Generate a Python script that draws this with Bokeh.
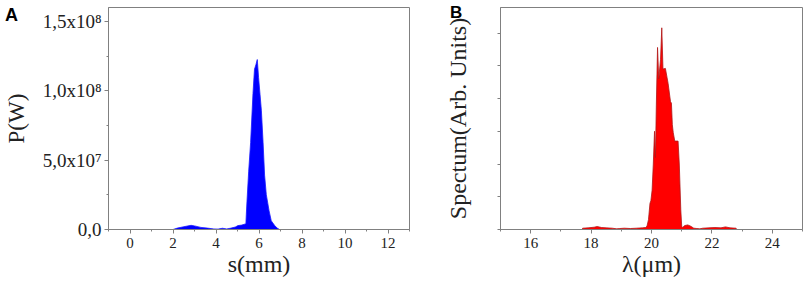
from bokeh.plotting import figure
from bokeh.layouts import GridBox
from bokeh.models import FixedTicker, Range1d, Div
from bokeh.embed import file_html
from bokeh.resources import INLINE

# ---------------- data ----------------
# Panel A: power vs position
s_mm = [2.0, 2.2, 2.5, 2.84, 3.0, 3.3, 3.6, 3.9, 4.1, 4.3, 4.5, 4.7, 4.9, 5.02, 5.2,
        5.36, 5.39, 5.41, 5.44, 5.52, 5.61, 5.72, 5.79, 5.86, 5.92, 5.98, 6.05, 6.11,
        6.19, 6.26, 6.34, 6.47, 6.57, 6.73, 6.85, 6.95]
p_w = [0.0, 1.0e6, 2.0e6, 3.0e6, 2.6e6, 1.5e6, 1.0e6, 0.4e6, 0.3e6, 0.9e6, 0.4e6, 1.0e6,
       1.8e6, 2.8e6, 3.2e6, 4.0e6, 4.2e6, 1.1e7, 2.0e7, 4.2e7, 6.27e7, 9.8e7, 1.155e8,
       1.19e8, 1.225e8, 1.096e8, 9.7e7, 8.6e7, 6.27e7, 3.92e7, 2.51e7, 1.34e7, 6.3e6,
       2.8e6, 1.0e6, 0.0]

# Panel B: spectrum vs wavelength
lam_um = [17.70, 17.72, 17.9, 18.1, 18.2, 18.35, 18.5, 18.7, 18.85, 18.95, 19.1, 19.3,
          19.5, 19.7, 19.8, 19.85, 19.9, 19.95, 19.98, 20.02, 20.06, 20.10, 20.13, 20.16,
          20.20, 20.24, 20.30, 20.34, 20.38, 20.46, 20.55, 20.63, 20.66, 20.69, 20.72,
          20.77, 20.88, 20.92, 20.97, 21.0, 21.03, 21.1, 21.2, 21.3, 21.4, 21.5, 21.6,
          21.7, 21.9, 22.1, 22.3, 22.45, 22.6, 22.8, 22.82]
spec = [0.0, 0.02, 0.025, 0.035, 0.045, 0.03, 0.025, 0.02, 0.01, 0.015, 0.02, 0.015,
        0.02, 0.025, 0.03, 0.05, 0.15, 0.40, 0.44, 0.6, 1.0, 1.50, 1.1, 1.9,
        2.78, 2.3, 2.6, 3.08, 2.45, 2.46, 2.23, 1.95, 1.93, 1.6, 1.48,
        1.35, 1.35, 1.0, 0.3, 0.05, 0.03, 0.06, 0.07, 0.05, 0.02, 0.015, 0.01,
        0.02, 0.025, 0.03, 0.025, 0.04, 0.025, 0.02, 0.0]

a_xticks = [0, 2, 4, 6, 8, 10, 12]
a_xminor = [-1, 1, 3, 5, 7, 9, 11, 13]
a_yticks = [0, 5e7, 1e8, 1.5e8]
a_yminor = [2.5e7, 7.5e7, 1.25e8]
a_ylabels = ["0,0", "5,0x10\u2077", "1,0x10\u2078", "1,5x10\u2078"]
b_xticks = [16, 18, 20, 22, 24]
b_xminor = [15, 17, 19, 21, 23, 25]
b_yticks = [0, 0.5, 1, 1.5, 2, 2.5, 3]

SERIF = "Liberation Serif"
AXC = "#808080"


def style(p):
    p.background_fill_color = "white"
    p.border_fill_color = "white"
    p.outline_line_color = AXC
    p.outline_line_width = 1
    p.xgrid.visible = False
    p.ygrid.visible = False
    for ax in (p.xaxis[0], p.yaxis[0]):
        ax.axis_line_color = AXC
        ax.major_tick_line_color = AXC
        ax.minor_tick_line_color = AXC
        ax.major_tick_out = 4
        ax.major_tick_in = 0
        ax.minor_tick_out = 2
        ax.minor_tick_in = 0
        ax.major_label_text_font = SERIF
        ax.major_label_text_font_size = "15px"
        ax.major_label_text_color = "#222222"
        ax.axis_label_text_font = SERIF
        ax.axis_label_text_font_style = "normal"
        ax.axis_label_text_color = "#222222"


# ---------------- Panel A ----------------
pA = figure(width=440, height=296, output_backend="svg", toolbar_location=None,
            x_range=Range1d(-1, 13), y_range=Range1d(0, 1.6e8),
            min_border_left=107, min_border_right=31, min_border_top=3,
            min_border_bottom=67)
style(pA)
pA.varea(x=s_mm, y1=0, y2=p_w, fill_color="#0000ff")
pA.line(x=s_mm, y=p_w, line_color="#1a1aff", line_width=0.8)
pA.xaxis.ticker = FixedTicker(ticks=a_xticks, minor_ticks=a_xminor)
pA.yaxis.ticker = FixedTicker(ticks=a_yticks, minor_ticks=a_yminor)
pA.yaxis.major_label_overrides = {t: l for t, l in zip(a_yticks, a_ylabels)}
pA.yaxis.major_label_text_font_size = "19px"
pA.yaxis.major_label_standoff = 3
pA.yaxis.axis_label = "P(W)"
pA.yaxis.axis_label_text_font_size = "23px"
pA.yaxis.axis_label_standoff = 11
pA.xaxis.major_label_standoff = 4
pA.xaxis.axis_label = "s(mm)"
pA.xaxis.axis_label_text_font_size = "24px"
pA.xaxis.axis_label_standoff = 0

# ---------------- Panel B ----------------
pB = figure(width=369, height=296, output_backend="svg", toolbar_location=None,
            x_range=Range1d(15, 25), y_range=Range1d(0, 3.39),
            min_border_left=60, min_border_right=7, min_border_top=7,
            min_border_bottom=65)
style(pB)
pB.varea(x=lam_um, y1=0, y2=spec, fill_color="#ff0000")
pB.line(x=lam_um, y=spec, line_color="#b01818", line_width=0.8)
pB.xaxis.ticker = FixedTicker(ticks=b_xticks, minor_ticks=b_xminor)
pB.yaxis.ticker = FixedTicker(ticks=[], minor_ticks=b_yticks)
pB.yaxis.minor_tick_out = 3
pB.xaxis.major_label_standoff = 4
pB.xaxis.axis_label = "\u03bb(\u03bcm)"
pB.xaxis.axis_label_text_font_size = "24px"
pB.xaxis.axis_label_standoff = 0
pB.yaxis.axis_label = "Spectum(Arb. Units)"
pB.yaxis.axis_label_text_font_size = "24px"
pB.yaxis.axis_label_standoff = 27

# panel letters, overlaid on the figures' top-left corners
LETTER = ("font-family:'Liberation Sans',Arial,sans-serif;font-weight:bold;"
          "line-height:1;color:black;")
divA = Div(text=f'<div style="{LETTER}font-size:18px;padding:6px 0 0 5px;">A</div>',
           width=30, height=30, margin=0)
divB = Div(text=f'<div style="{LETTER}font-size:17px;padding:4px 0 0 10px;">B</div>',
           width=30, height=30, margin=0)

layout = GridBox(children=[(pA, 0, 0), (divA, 0, 0), (pB, 0, 1), (divB, 0, 1)])
open("out.html", "w").write(file_html(layout, INLINE))
